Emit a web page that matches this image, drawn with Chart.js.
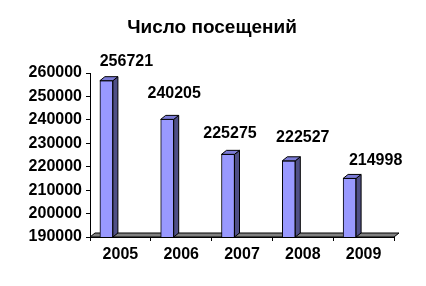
<!DOCTYPE html>
<html>
<head>
<meta charset="utf-8">
<script src="https://cdn.jsdelivr.net/npm/chart.js@4/dist/chart.umd.min.js"></script>
<style>
  html, body { margin: 0; padding: 0; background: #fff; }
  #wrap { width: 426px; height: 286px; }
</style>
</head>
<body>
<div id="wrap"><canvas id="visitsChart" width="426" height="286"></canvas></div>
<script>
// данные диаграммы
var chartTitle = 'Число посещений';
var years = ['2005', '2006', '2007', '2008', '2009'];
var visits = [256721, 240205, 225275, 222527, 214998];
var yTicks = [190000, 200000, 210000, 220000, 230000, 240000, 250000, 260000];

var FONT = '"Liberation Sans", Arial, sans-serif';
var DEPTH_X = 5, DEPTH_Y = 4;   // глубина "объёма"
var SHIFT = -14;                // столбики стоят левее центра категории
// сдвиги подписей значений относительно верха столбика
var labelNudge = [[20, -19], [7, -26], [2, -21], [14, -23], [26, -18]];

// псевдо-3D: пол, боковые и верхние грани, подписи
var fake3d = {
    id: 'fake3d',
    beforeDatasetsDraw: function(chart) {
        var ctx = chart.ctx, a = chart.chartArea;
        ctx.save();
        ctx.beginPath();
        ctx.moveTo(a.left, a.bottom);
        ctx.lineTo(a.right, a.bottom);
        ctx.lineTo(a.right + DEPTH_X, a.bottom - DEPTH_Y);
        ctx.lineTo(a.left + DEPTH_X, a.bottom - DEPTH_Y);
        ctx.closePath();
        ctx.fillStyle = '#808080';
        ctx.fill();
        ctx.strokeStyle = '#000';
        ctx.lineWidth = 1;
        ctx.stroke();
        ctx.translate(SHIFT, 0);
    },
    afterDatasetsDraw: function(chart) {
        var ctx = chart.ctx;
        var bars = chart.getDatasetMeta(0).data;
        var floor = chart.chartArea.bottom;
        ctx.lineWidth = 1;
        ctx.strokeStyle = '#000';
        bars.forEach(function(b) {
            var l = b.x - b.width / 2, r = b.x + b.width / 2, t = b.y, bot = Math.min(b.base, floor);
            // боковая грань
            ctx.beginPath();
            ctx.moveTo(r, t);
            ctx.lineTo(r + DEPTH_X, t - DEPTH_Y);
            ctx.lineTo(r + DEPTH_X, bot - DEPTH_Y);
            ctx.lineTo(r, bot);
            ctx.closePath();
            ctx.fillStyle = '#4f4f86';
            ctx.fill();
            ctx.stroke();
            // верхняя грань
            ctx.beginPath();
            ctx.moveTo(l, t);
            ctx.lineTo(l + DEPTH_X, t - DEPTH_Y);
            ctx.lineTo(r + DEPTH_X, t - DEPTH_Y);
            ctx.lineTo(r, t);
            ctx.closePath();
            ctx.fillStyle = '#7b7bd6';
            ctx.fill();
            ctx.stroke();
        });
        ctx.restore();
    },
    afterDraw: function(chart) {
        var ctx = chart.ctx;
        var bars = chart.getDatasetMeta(0).data;
        ctx.save();
        ctx.fillStyle = '#000';
        ctx.textAlign = 'center';
        ctx.textBaseline = 'middle';
        ctx.font = 'bold 19px ' + FONT;
        ctx.fillText(chartTitle, 212, 28);
        ctx.font = 'bold 16px ' + FONT;
        bars.forEach(function(b, i) {
            ctx.fillText(String(visits[i]), b.x + SHIFT + labelNudge[i][0], b.y + labelNudge[i][1]);
        });
        ctx.restore();
    }
};

var ctx = document.getElementById('visitsChart').getContext('2d');
var visitsChart = new Chart(ctx, {
    type: 'bar',
    data: {
        labels: years,
        datasets: [{
            data: visits,
            backgroundColor: '#9999ff',
            borderColor: '#000',
            borderWidth: 1,
            barThickness: 13
        }]
    },
    options: {
        responsive: false,
        animation: false,
        layout: { padding: { left: 0, right: 32, top: 73, bottom: 15 } },
        plugins: {
            legend: { display: false },
            tooltip: { enabled: false },
            title: { display: false }
        },
        scales: {
            x: {
                grid: { drawOnChartArea: false, drawTicks: true, tickLength: 4, color: '#000' },
                border: { display: true, color: '#000' },
                ticks: { color: '#000', padding: 4, font: { family: FONT, size: 16, weight: 'bold' } },
                afterFit: function(s) { s.height = 34; }
            },
            y: {
                min: yTicks[0],
                max: yTicks[yTicks.length - 1],
                grid: { drawOnChartArea: false, drawTicks: true, tickLength: 4, color: '#000' },
                border: { display: true, color: '#000' },
                ticks: {
                    stepSize: yTicks[1] - yTicks[0],
                    color: '#000',
                    padding: 4,
                    font: { family: FONT, size: 16, weight: 'bold' },
                    callback: function(v) { return String(v); }
                },
                afterFit: function(s) { s.width = 90; }
            }
        }
    },
    plugins: [fake3d]
});
</script>
</body>
</html>
